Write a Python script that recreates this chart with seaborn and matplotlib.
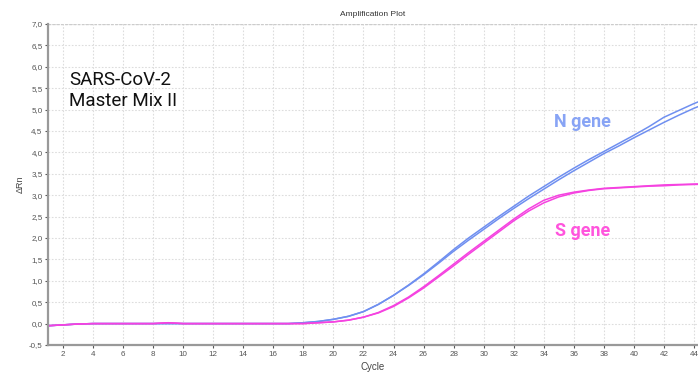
import matplotlib
matplotlib.use("Agg")
import matplotlib.pyplot as plt
import pandas as pd
import seaborn as sns

# ── Data ──────────────────────────────────────────────────────────────────────
cycles = list(range(1, 46))

n_gene_rep1 = [-0.05, -0.03, -0.01, 0.0, 0.0, 0.0, 0.0, 0.0, 0.0, 0.0,
               0.0, 0.0, 0.0, 0.0, 0.0, 0.0, 0.0, 0.02, 0.05, 0.10,
               0.17, 0.28, 0.45, 0.66, 0.90, 1.16, 1.44, 1.73, 2.00, 2.25,
               2.50, 2.74, 2.98, 3.20, 3.42, 3.63, 3.83, 4.02, 4.21, 4.40,
               4.60, 4.82, 4.98, 5.14, 5.28]
n_gene_rep2 = [-0.05, -0.03, -0.01, 0.0, 0.0, 0.0, 0.0, 0.0, 0.0, 0.0,
               0.0, 0.0, 0.0, 0.0, 0.0, 0.0, 0.0, 0.02, 0.05, 0.10,
               0.17, 0.28, 0.45, 0.66, 0.89, 1.14, 1.41, 1.69, 1.95, 2.20,
               2.45, 2.69, 2.92, 3.14, 3.36, 3.57, 3.77, 3.97, 4.15, 4.34,
               4.52, 4.70, 4.87, 5.03, 5.17]
s_gene_rep1 = [-0.05, -0.03, -0.01, 0.0, 0.0, 0.0, 0.0, 0.0, 0.02, 0.0,
               0.0, 0.0, 0.0, 0.0, 0.0, 0.0, 0.0, 0.0, 0.02, 0.04,
               0.08, 0.15, 0.26, 0.42, 0.62, 0.86, 1.12, 1.39, 1.66, 1.92,
               2.18, 2.44, 2.68, 2.88, 3.00, 3.07, 3.12, 3.16, 3.18, 3.20,
               3.22, 3.24, 3.25, 3.26, 3.27]
s_gene_rep2 = [-0.05, -0.03, -0.01, 0.0, 0.0, 0.0, 0.0, 0.0, 0.02, 0.0,
               0.0, 0.0, 0.0, 0.0, 0.0, 0.0, 0.0, 0.0, 0.02, 0.04,
               0.08, 0.15, 0.25, 0.40, 0.60, 0.83, 1.09, 1.35, 1.62, 1.88,
               2.14, 2.40, 2.63, 2.82, 2.96, 3.05, 3.11, 3.15, 3.17, 3.19,
               3.21, 3.22, 3.24, 3.25, 3.26]

PALETTE = {"N gene": "#6F8FF0", "S gene": "#F542E0"}

frames = []
for gene, rep, vals in [("N gene", 1, n_gene_rep1), ("N gene", 2, n_gene_rep2),
                        ("S gene", 1, s_gene_rep1), ("S gene", 2, s_gene_rep2)]:
    frames.append(pd.DataFrame({"Cycle": cycles, "dRn": vals,
                                "gene": gene, "rep": rep}))
df = pd.concat(frames, ignore_index=True)

sns.set_style("white")
plt.rcParams["font.family"] = ["Liberation Sans", "DejaVu Sans"]

fig = plt.figure(figsize=(6.98, 3.72), dpi=100)
ax = fig.add_axes([0.0688, 0.0726, 0.9312, 0.863])

sns.lineplot(data=df, x="Cycle", y="dRn", hue="gene", units="rep",
             estimator=None, palette=PALETTE, linewidth=1.1, legend=False,
             ax=ax)

ax.set_xlim(1, 44.27)
ax.set_ylim(-0.5, 7.0)
ax.set_xticks(range(2, 45, 2))
ax.set_yticks([i * 0.5 for i in range(-1, 15)])
ax.set_yticklabels([f"{v:.1f}".replace(".", ",") for v in ax.get_yticks()])
ax.tick_params(axis="both", labelsize=5.8, colors="#555555", length=2,
               width=0.8, pad=2, left=True, bottom=True)

ax.grid(True, color="#dddddd", linestyle=(0, (1.5, 1.5)), linewidth=0.8)
for side in ("top", "right"):
    ax.spines[side].set_visible(False)
for side in ("left", "bottom"):
    ax.spines[side].set_color("#999999")
    ax.spines[side].set_linewidth(1.6)
ax.axhline(7.0, color="#cccccc", linewidth=1.0, linestyle=(0, (2, 1)))

ax.set_xlabel("Cycle", fontsize=7, color="#444444", labelpad=3)
ax.set_ylabel("ΔRn", fontsize=6.5, color="#444444", labelpad=3)
ax.set_title("Amplification Plot", fontsize=6, color="#333333", pad=6)

ax.text(2.4, 5.45, "SARS-CoV-2\nMaster Mix II", fontsize=13.5,
        family="Roboto", color="#111111", ha="left", va="center",
        linespacing=1.2)
ax.text(36.6, 4.72, "N gene", fontsize=13, family="Roboto", fontweight="bold",
        color="#88A4F5", ha="center", va="center")
ax.text(36.6, 2.17, "S gene", fontsize=13, family="Roboto", fontweight="bold",
        color="#FF55DD", ha="center", va="center")

fig.savefig("out.png", dpi=100)
